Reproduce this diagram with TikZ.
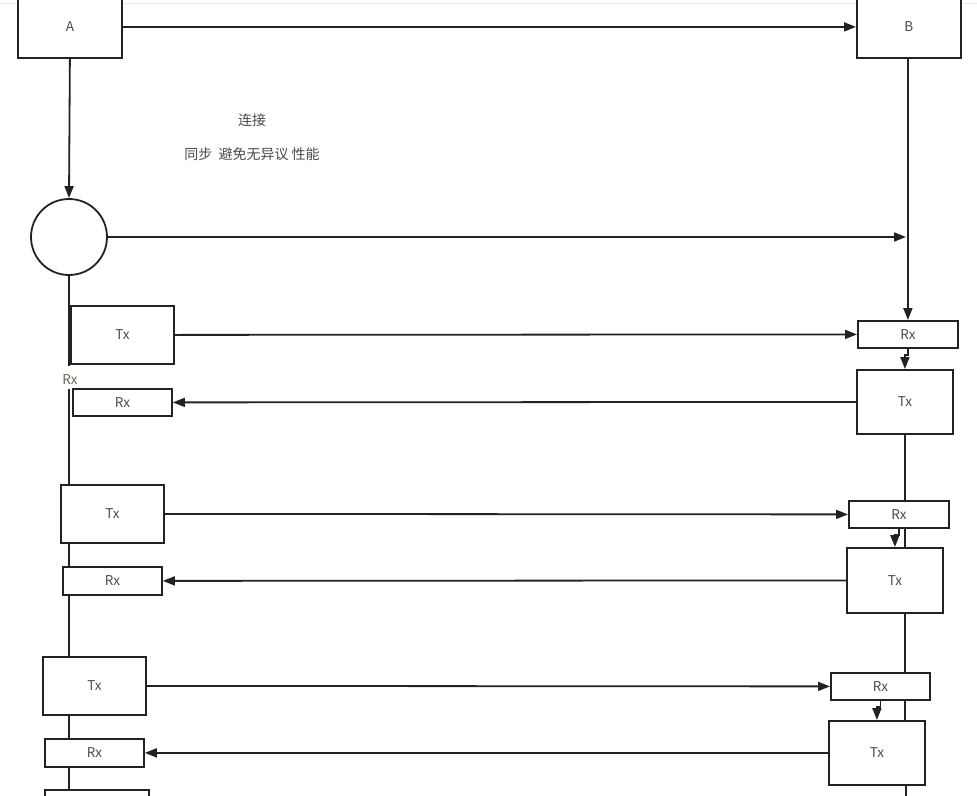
\documentclass[tikz,border=0pt]{standalone}
\usepackage{fontspec}
\newfontfamily\cjk{Noto Sans CJK SC}
\usetikzlibrary{arrows.meta,calc}
\definecolor{ink}{HTML}{222222}
\definecolor{txt}{HTML}{4A4A4A}
\definecolor{rxlab}{HTML}{6E6358}
\tikzset{
  box/.style={draw=ink, line width=1.8pt, fill=white, rectangle, inner sep=0pt,
              font=\cjk\fontsize{13.5}{15}\selectfont, text=txt, anchor=north west},
  conn/.style={draw=ink, line width=1.8pt},
  arr/.style={conn, -{Triangle[length=12pt,width=9pt]}},
  lbl/.style={font=\cjk\fontsize{14}{16}\selectfont, text=txt, inner sep=0pt}
}
\begin{document}
\begin{tikzpicture}[x=1pt,y=-1pt]
\useasboundingbox (0,0) rectangle (977,795);
\clip (0,0) rectangle (977,795);
\draw[color=black!8, line width=1pt] (0,3) -- (977,3);

% top boxes
\node[box, minimum width=104pt, minimum height=62pt] (A) at (17,-5) {A};
\node[box, minimum width=104pt, minimum height=62pt] (B) at (856,-5) {B};
\node[draw=ink, line width=1.8pt, circle, minimum size=76pt, inner sep=0pt] (circ) at (69,237) {};
\coordinate (cend) at (906,237);

% left column
\node[box, minimum width=103pt, minimum height=58pt] (ltx1) at (70,305) {Tx};
\node[box, minimum width=99pt, minimum height=27pt] (lrx1) at (72,388) {Rx};
\node[box, minimum width=103pt, minimum height=58pt] (ltx2) at (60,484) {Tx};
\node[box, minimum width=99pt, minimum height=28pt] (lrx2) at (62,566) {Rx};
\node[box, minimum width=103pt, minimum height=58pt] (ltx3) at (42,656) {Tx};
\node[box, minimum width=99pt, minimum height=28pt] (lrx3) at (44,738) {Rx};
\node[box, minimum width=104pt, minimum height=58pt] (ltx4) at (44,789) {};

% right column
\node[box, minimum width=100pt, minimum height=27pt] (rrx1) at (857,320) {Rx};
\node[box, minimum width=96pt, minimum height=64pt] (rtx1) at (856,369) {Tx};
\node[box, minimum width=100pt, minimum height=27pt] (rrx2) at (848,500) {Rx};
\node[box, minimum width=96pt, minimum height=65pt] (rtx2) at (846,547) {Tx};
\node[box, minimum width=99pt, minimum height=27pt] (rrx3) at (830,672) {Rx};
\node[box, minimum width=96pt, minimum height=64pt] (rtx3) at (828,720) {Tx};
\coordinate (rend) at (906,800);

% texts
\node[lbl] (t1) at (252,120) {连接};
\node[lbl] (t2) at (252,154) {同步\ \ 避免无异议 性能};
\node[lbl, text=rxlab, font=\cjk\fontsize{13.5}{15}\selectfont] (rxl) at (70,380) {Rx};
\coordinate (lgap1) at (69,366);
\coordinate (lgap2) at (69,389);

% top connectors
\draw[arr] (A.east) -- (B.west);
\draw[arr] (A.south) -- (circ.north);
\draw[arr] (circ.east) -- (cend);
\draw[arr] (B.south -| rrx1.north) -- (rrx1.north);

% left vertical spine
\draw[conn] (circ.south) -- (lgap1);
\draw[conn] (lgap2) -- (circ |- ltx2.north);
\draw[conn] (circ |- ltx2.south) -- (circ |- lrx2.north);
\draw[conn] (circ |- lrx2.south) -- (circ |- ltx3.north);
\draw[conn] (circ |- ltx3.south) -- (circ |- lrx3.north);
\draw[conn] (circ |- lrx3.south) -- (circ |- ltx4.north);

% right vertical spine
\draw[conn] (rtx1.south) -- (rtx1.south |- rrx2.north);
\draw[conn] (rtx1.south |- rrx2.south) -- (rtx1.south |- rtx2.north);
\draw[conn] (rtx1.south |- rtx2.south) -- (rtx1.south |- rrx3.north);
\draw[conn] (rtx1.south |- rrx3.south) -- (rtx1.south |- rtx3.north);
\draw[conn] (rend |- rtx3.south) -- (rend);

% Rx -> Tx elbows
\draw[arr] (rrx1.south) -- ++(0,6) -| (rtx1.north);
\draw[arr] (rrx2.south) -- ++(0,6) -| (rtx2.north);
\draw[arr] (rrx3.south) -- ++(0,6) -| (rtx3.north);

% horizontal exchanges
\draw[arr] (ltx1.east) -- (rrx1.west);
\draw[arr] (rtx1.west) -- (lrx1.east);
\draw[arr] (ltx2.east) -- (rrx2.west);
\draw[arr] (rtx2.west) -- (lrx2.east);
\draw[arr] (ltx3.east) -- (rrx3.west);
\draw[arr] (rtx3.west) -- (lrx3.east);
\end{tikzpicture}
\end{document}
